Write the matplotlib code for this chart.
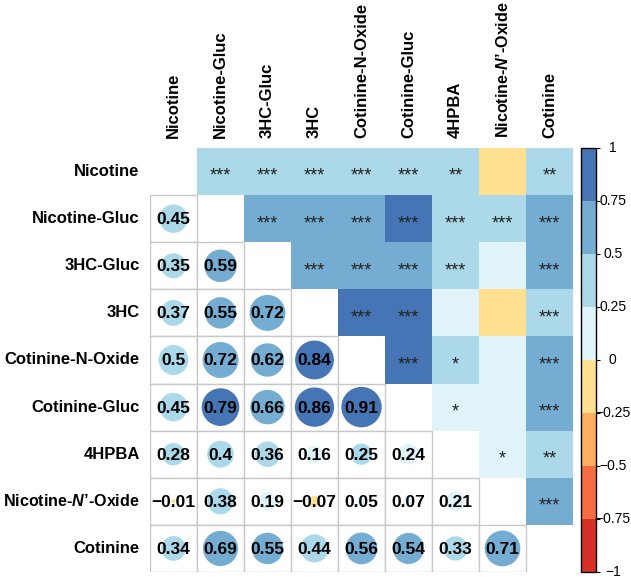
import numpy as np
import matplotlib.pyplot as plt
from matplotlib.patches import Rectangle, Circle
from matplotlib.colors import ListedColormap, BoundaryNorm
from matplotlib.cm import ScalarMappable

plt.rcParams['font.family'] = ['Liberation Sans', 'DejaVu Sans']
plt.rcParams['mathtext.fontset'] = 'custom'
plt.rcParams['mathtext.it'] = 'Liberation Sans:italic:bold'
plt.rcParams['mathtext.rm'] = 'Liberation Sans:bold'

# variable names (rows top->bottom, columns left->right)
labels = ['Nicotine', 'Nicotine-Gluc', '3HC-Gluc', '3HC', 'Cotinine-N-Oxide',
          'Cotinine-Gluc', '4HPBA', 'Nicotine-$\\mathit{N}$\u2019-Oxide', 'Cotinine']

# lower triangle correlations, row i vs columns 0..i-1
lower = [
    [],
    [0.45],
    [0.35, 0.59],
    [0.37, 0.55, 0.72],
    [0.499, 0.72, 0.62, 0.84],
    [0.45, 0.79, 0.66, 0.86, 0.91],
    [0.28, 0.40, 0.36, 0.16, 0.25, 0.24],
    [-0.01, 0.38, 0.19, -0.07, 0.05, 0.07, 0.21],
    [0.34, 0.69, 0.55, 0.44, 0.56, 0.54, 0.33, 0.71],
]

# significance stars, row i vs columns i+1..8
stars = [
    ['***', '***', '***', '***', '***', '**', '', '**'],
    ['***', '***', '***', '***', '***', '***', '***'],
    ['***', '***', '***', '***', '', '***'],
    ['***', '***', '', '', '***'],
    ['***', '*', '', '***'],
    ['*', '', '***'],
    ['*', '**'],
    ['***'],
]

# RdYlBu, 8 bins from -1 to 1
palette = ['#D73027', '#F46D43', '#FDAE61', '#FEE090',
           '#E0F3F8', '#ABD9E9', '#74ADD1', '#4575B4']
bounds = np.linspace(-1, 1, 9)
cmap = ListedColormap(palette)
norm = BoundaryNorm(bounds, cmap.N)

n = len(labels)


def corr(i, j):
    a, b = max(i, j), min(i, j)
    return lower[a][b]


fig = plt.figure(figsize=(6.31, 5.78), dpi=100)
W, H = 631, 578
ax = fig.add_axes([150 / W, (H - 572) / H, 423 / W, 424 / H])
ax.set_xlim(0, n)
ax.set_ylim(n, 0)
ax.axis('off')

for i in range(n):
    for j in range(n):
        if i == j:
            continue
        v = corr(i, j)
        c = cmap(norm(v))
        if i > j:
            ax.add_patch(Rectangle((j, i), 1, 1, fc='white', ec='#C8C8C8', lw=1, zorder=1))
            ax.add_patch(Circle((j + 0.5, i + 0.5), 0.45 * np.sqrt(abs(v)),
                                fc=c, ec='none', zorder=2))
            txt = f"{round(v, 2):g}".replace('-', '\u2212')
            ax.text(j + 0.5, i + 0.52, txt, ha='center', va='center',
                    fontsize=12.5, fontweight='bold', color='black', zorder=3)
        else:
            ax.add_patch(Rectangle((j, i), 1, 1, fc=c, ec='none', zorder=1))
            s = stars[i][j - i - 1]
            if s:
                ax.text(j + 0.5, i + 0.7, s, ha='center', va='baseline',
                        fontsize=13, color='#222222', zorder=3)

for k, lab in enumerate(labels):
    fs = 11.6 if '$' in lab else 12
    ax.text(-0.22, k + 0.5, lab, ha='right', va='center',
            fontsize=fs, fontweight='bold')
    ax.text(k + 0.5, -0.21, lab, ha='center', va='bottom', rotation=90,
            fontsize=fs, fontweight='bold')

# colour key
cax = fig.add_axes([580.7 / W, (H - 571.5) / H, 15.3 / W, 423.5 / H])
cb = fig.colorbar(ScalarMappable(norm=norm, cmap=cmap), cax=cax, ticks=bounds)
cb.outline.set_linewidth(1)
cax.tick_params(length=3, width=0.8, labelright=False)
tick_text = ['\u22121', '\u22120.75', '\u22120.5', '\u22120.25', '0',
             '0.25', '0.5', '0.75', '1']
for b, t in zip(bounds, tick_text):
    cax.text(2.1, b, t, ha='center', va='center', fontsize=10,
             transform=cax.get_yaxis_transform())

fig.savefig('out.png', dpi=100)
